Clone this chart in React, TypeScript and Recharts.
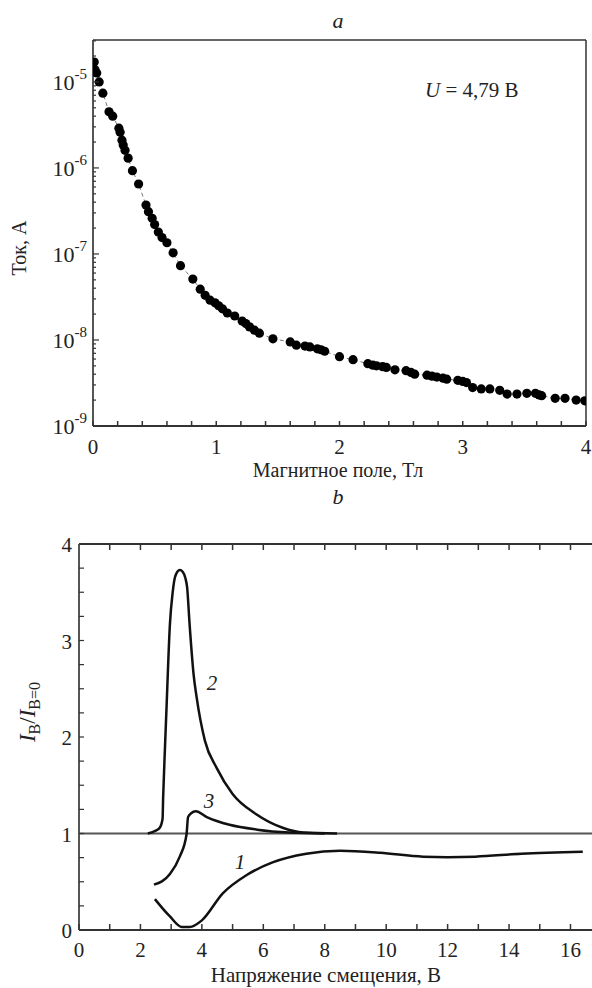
import React from "react";
import { ComposedChart, Line, XAxis, YAxis, ReferenceLine, Label } from "recharts";

// panel a: current vs magnetic field (U = 4,79 V)
const fieldT = [
  0.01, 0.016, 0.03, 0.05, 0.08, 0.13, 0.16, 0.21, 0.22, 0.235, 0.245, 0.26, 0.285, 0.32, 0.37,
  0.43, 0.45, 0.48, 0.5, 0.53, 0.56, 0.6, 0.65, 0.71, 0.81, 0.87, 0.91, 0.95, 0.99, 1.02, 1.05,
  1.09, 1.15, 1.21, 1.24, 1.27, 1.31, 1.35, 1.46, 1.6, 1.65, 1.72, 1.76, 1.82, 1.85, 1.88, 2.0,
  2.11, 2.23, 2.27, 2.3, 2.35, 2.38, 2.45, 2.54, 2.58, 2.61, 2.71, 2.75, 2.79, 2.84, 2.87, 2.96,
  3.0, 3.03, 3.08, 3.15, 3.22, 3.3, 3.36, 3.44, 3.52, 3.59, 3.62, 3.64, 3.75, 3.83, 3.92, 3.99
];
const currentA = [
  1.7e-5, 1.38e-5, 1.27e-5, 1.0e-5, 7.4e-6, 4.5e-6, 4.0e-6, 2.9e-6, 2.6e-6, 2.1e-6, 1.85e-6, 1.6e-6,
  1.3e-6, 9.3e-7, 6.5e-7, 3.7e-7, 3.1e-7, 2.6e-7, 2.2e-7, 1.8e-7, 1.55e-7, 1.35e-7, 1.03e-7, 7.3e-8,
  5.1e-8, 3.9e-8, 3.3e-8, 2.9e-8, 2.7e-8, 2.5e-8, 2.3e-8, 2.06e-8, 1.9e-8, 1.66e-8, 1.55e-8, 1.42e-8,
  1.3e-8, 1.2e-8, 1.03e-8, 9.5e-9, 8.7e-9, 8.5e-9, 8.3e-9, 7.9e-9, 7.7e-9, 7.4e-9, 6.4e-9, 5.9e-9,
  5.3e-9, 5.1e-9, 5.0e-9, 4.9e-9, 4.8e-9, 4.5e-9, 4.4e-9, 4.2e-9, 4.0e-9, 3.9e-9, 3.8e-9, 3.7e-9,
  3.6e-9, 3.5e-9, 3.4e-9, 3.3e-9, 3.2e-9, 2.8e-9, 2.7e-9, 2.7e-9, 2.6e-9, 2.35e-9, 2.35e-9, 2.4e-9,
  2.4e-9, 2.3e-9, 2.25e-9, 2.1e-9, 2.1e-9, 2.0e-9, 1.96e-9
];
const fieldTicks = [0, 0.2, 0.4, 0.6, 0.8, 1, 1.2, 1.4, 1.6, 1.8, 2, 2.2, 2.4, 2.6, 2.8, 3, 3.2, 3.4, 3.6, 3.8, 4];
const currentTicks = [
  1e-9, 2e-9, 3e-9, 4e-9, 5e-9, 6e-9, 7e-9, 8e-9, 9e-9,
  1e-8, 2e-8, 3e-8, 4e-8, 5e-8, 6e-8, 7e-8, 8e-8, 9e-8,
  1e-7, 2e-7, 3e-7, 4e-7, 5e-7, 6e-7, 7e-7, 8e-7, 9e-7,
  1e-6, 2e-6, 3e-6, 4e-6, 5e-6, 6e-6, 7e-6, 8e-6, 9e-6,
  1e-5, 2e-5, 3e-5
];

// panel b: I_B / I_B=0 vs bias voltage
const bias1 = [2.47, 2.96, 3.35, 3.6, 4.0, 4.68, 5.46, 6.3, 7.4, 8.5, 9.8, 11.2, 12.0, 12.9, 14.4, 16.4];
const ratio1 = [0.32, 0.14, 0.03, 0.03, 0.1, 0.38, 0.57, 0.7, 0.79, 0.82, 0.8, 0.76, 0.755, 0.76, 0.79, 0.81];
const bias2 = [2.24, 2.5, 2.63, 2.72, 2.74, 2.8, 2.85, 2.96, 3.05, 3.12, 3.18, 3.28, 3.38, 3.46, 3.52, 3.6, 3.73, 3.83, 4.1, 4.48, 5.0, 5.77, 6.63, 7.3, 8.4];
const ratio2 = [1.0, 1.03, 1.06, 1.15, 1.38, 1.9, 2.31, 3.17, 3.5, 3.65, 3.7, 3.73, 3.71, 3.65, 3.55, 3.17, 2.65, 2.41, 1.96, 1.68, 1.41, 1.2, 1.06, 1.01, 1.0];
const bias3 = [2.44, 2.96, 3.28, 3.5, 3.55, 3.65, 3.8, 4.16, 4.9, 5.8, 6.86, 8.0];
const ratio3 = [0.47, 0.58, 0.76, 0.99, 1.17, 1.21, 1.23, 1.17, 1.09, 1.04, 1.01, 1.0];
const biasTicks = [0, 1, 2, 3, 4, 5, 6, 7, 8, 9, 10, 11, 12, 13, 14, 15, 16];
const ratioTicks = [0, 0.25, 0.5, 0.75, 1, 1.25, 1.5, 1.75, 2, 2.25, 2.5, 2.75, 3, 3.25, 3.5, 3.75, 4];

const FONT = "'Liberation Serif', 'DejaVu Serif', 'Times New Roman', serif";
const AXIS = "#333";
const txt = { fontFamily: FONT, fill: "#222" };

const toPoints = (xs: number[], ys: number[]) => xs.map((x, i) => ({ x, y: ys[i] }));
const pointsA = toPoints(fieldT, currentA);
const curve1 = toPoints(bias1, ratio1);
const curve2 = toPoints(bias2, ratio2);
const curve3 = toPoints(bias3, ratio3);

const isPow10 = (v: number) => Math.abs(Math.log10(v) - Math.round(Math.log10(v))) < 1e-6;

const FieldTick = (props: any) => {
  const { x, y, payload } = props;
  const v = payload.value;
  const major = Math.abs(v - Math.round(v)) < 1e-6;
  return (
    <g>
      <line x1={x} x2={x} y1={y} y2={y - 5} stroke={AXIS} strokeWidth={1.5} />
      {major && (
        <text x={x} y={y + 28} textAnchor="middle" fontSize={21} style={txt}>
          {Math.round(v)}
        </text>
      )}
    </g>
  );
};

const CurrentTick = (props: any) => {
  const { x, y, payload } = props;
  const v = payload.value;
  const major = isPow10(v);
  return (
    <g>
      <line x1={x} x2={x + (major ? 6 : 3)} y1={y} y2={y} stroke={AXIS} strokeWidth={1.2} />
      {major && (
        <text x={x - 6} y={y + 8} textAnchor="end" fontSize={22} style={txt}>
          10
          <tspan dy={-11} fontSize={15}>
            {"-" + Math.abs(Math.round(Math.log10(v)))}
          </tspan>
        </text>
      )}
    </g>
  );
};

const BiasTick = (props: any) => {
  const { x, y, payload } = props;
  const v = payload.value;
  return (
    <g>
      <line x1={x} x2={x} y1={y} y2={y - 6} stroke={AXIS} strokeWidth={1.5} />
      {v % 2 === 0 && (
        <text x={x} y={y + 27} textAnchor="middle" fontSize={21} style={txt}>
          {v}
        </text>
      )}
    </g>
  );
};

const TopTick = (props: any) => {
  const { x, y } = props;
  return <line x1={x} x2={x} y1={y} y2={y + 6} stroke={AXIS} strokeWidth={1.5} />;
};

const RatioTick = (props: any) => {
  const { x, y, payload } = props;
  const v = payload.value;
  const major = Math.abs(v - Math.round(v)) < 1e-6;
  return (
    <g>
      <line x1={x} x2={x + 5} y1={y} y2={y} stroke={AXIS} strokeWidth={1.2} />
      {major && (
        <text x={x - 7} y={y + 8} textAnchor="end" fontSize={21} style={txt}>
          {v}
        </text>
      )}
    </g>
  );
};

const textsA = () => (
  <g>
    <text x={338} y={28} textAnchor="middle" fontSize={22} fontStyle="italic" style={txt}>a</text>
    <text x={425} y={97} fontSize={21} style={txt}>
      <tspan fontStyle="italic">U</tspan> = 4,79 В
    </text>
    <text x={338} y={477} textAnchor="middle" fontSize={20} style={txt}>Магнитное поле, Тл</text>
    <text transform="translate(26,248) rotate(-90)" textAnchor="middle" fontSize={20} style={txt}>Ток, А</text>
  </g>
);

const textsB = () => (
  <g>
    <text x={338} y={24} textAnchor="middle" fontSize={22} fontStyle="italic" style={txt}>b</text>
    <text x={212} y={210} textAnchor="middle" fontSize={21} fontStyle="italic" style={txt}>2</text>
    <text x={209} y={328} textAnchor="middle" fontSize={21} fontStyle="italic" style={txt}>3</text>
    <text x={240} y={389} textAnchor="middle" fontSize={21} fontStyle="italic" style={txt}>1</text>
    <text x={326} y={502} textAnchor="middle" fontSize={21} style={txt}>Напряжение смещения, В</text>
    <text transform="translate(35,232) rotate(-90)" textAnchor="middle" fontSize={23} style={txt}>
      <tspan fontStyle="italic">I</tspan>
      <tspan dy={5} fontSize={16}>B</tspan>
      <tspan dy={-5}>/</tspan>
      <tspan fontStyle="italic">I</tspan>
      <tspan dy={5} fontSize={16}>B=0</tspan>
    </text>
  </g>
);

export default function App() {
  return (
    <div style={{ position: "absolute", left: 0, top: 0, width: 592, height: 988, background: "#fff" }}>
      <div style={{ position: "absolute", left: 0, top: 0 }}>
        <ComposedChart width={592} height={490} data={pointsA} margin={{ top: 39, right: 6, bottom: 0, left: 0 }}>
          <XAxis
            dataKey="x"
            type="number"
            domain={[0, 4]}
            ticks={fieldTicks}
            interval={0}
            allowDataOverflow
            height={64}
            tickSize={0}
            tickMargin={0}
            tickLine={false}
            tick={<FieldTick />}
            axisLine={{ stroke: AXIS, strokeWidth: 2 }}
          >
            <Label content={textsA} />
          </XAxis>
          <XAxis
            xAxisId="top"
            dataKey="x"
            orientation="top"
            type="number"
            domain={[0, 4]}
            allowDataOverflow
            height={1}
            tick={false}
            tickLine={false}
            axisLine={{ stroke: AXIS, strokeWidth: 1.5 }}
          />
          <YAxis
            type="number"
            scale="log"
            domain={[1e-9, 3.07e-5]}
            ticks={currentTicks}
            interval={0}
            allowDataOverflow
            width={93}
            tickSize={0}
            tickMargin={0}
            tickLine={false}
            tick={<CurrentTick />}
            axisLine={{ stroke: "#555", strokeWidth: 2 }}
          />
          <ReferenceLine x={4} stroke="#666" strokeWidth={2} />
          <Line
            xAxisId="top"
            dataKey="y"
            stroke="none"
            dot={false}
            activeDot={false}
            isAnimationActive={false}
          />
          <Line
            dataKey="y"
            type="linear"
            stroke="#777"
            strokeWidth={1}
            strokeDasharray="4 3"
            dot={{ r: 4.6, fill: "#000", stroke: "none" }}
            activeDot={false}
            isAnimationActive={false}
          />
        </ComposedChart>
      </div>
      <div style={{ position: "absolute", left: 0, top: 480 }}>
        <ComposedChart width={592} height={508} margin={{ top: 63, right: 0, bottom: 0, left: 0 }}>
          <XAxis
            dataKey="x"
            type="number"
            domain={[0, 16.7]}
            ticks={biasTicks}
            interval={0}
            allowDataOverflow
            height={58}
            tickSize={0}
            tickMargin={0}
            tickLine={false}
            tick={<BiasTick />}
            axisLine={{ stroke: AXIS, strokeWidth: 2 }}
          >
            <Label content={textsB} />
          </XAxis>
          <XAxis
            xAxisId="top"
            dataKey="x"
            orientation="top"
            type="number"
            domain={[0, 16.7]}
            ticks={biasTicks.slice(1)}
            interval={0}
            allowDataOverflow
            height={1}
            tickSize={0}
            tickMargin={0}
            tickLine={false}
            tick={<TopTick />}
            axisLine={{ stroke: AXIS, strokeWidth: 2 }}
          />
          <YAxis
            type="number"
            domain={[0, 4]}
            ticks={ratioTicks}
            interval={0}
            allowDataOverflow
            width={79}
            tickSize={0}
            tickMargin={0}
            tickLine={false}
            tick={<RatioTick />}
            axisLine={{ stroke: "#555", strokeWidth: 2 }}
          />
          <ReferenceLine y={1} stroke="#555" strokeWidth={2} />
          <Line xAxisId="top" data={curve1} dataKey="y" stroke="none" dot={false} activeDot={false} isAnimationActive={false} />
          <Line data={curve1} dataKey="y" type="monotone" stroke="#111" strokeWidth={2.5} dot={false} activeDot={false} isAnimationActive={false} />
          <Line data={curve2} dataKey="y" type="monotone" stroke="#111" strokeWidth={2.5} dot={false} activeDot={false} isAnimationActive={false} />
          <Line data={curve3} dataKey="y" type="monotone" stroke="#111" strokeWidth={2.5} dot={false} activeDot={false} isAnimationActive={false} />
        </ComposedChart>
      </div>
    </div>
  );
}
